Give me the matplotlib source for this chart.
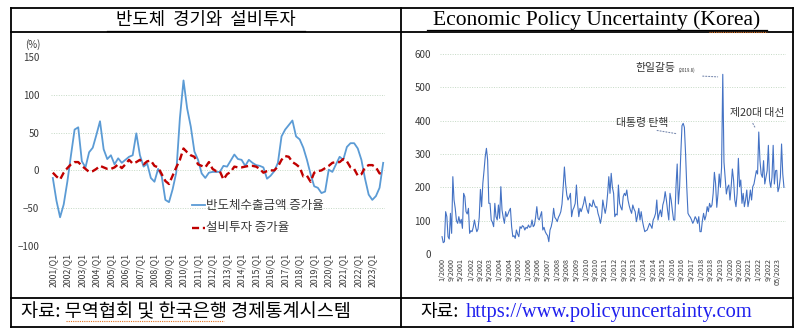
import numpy as np
import matplotlib
matplotlib.use('Agg')
import matplotlib.pyplot as plt

plt.rcParams['font.family'] = ['Noto Sans CJK KR', 'DejaVu Sans']

# left panel: quarterly growth rates (%), 2001Q1 .. 2023Q4
quarter_labels = [f'{y}/Q1' for y in range(2001, 2024)]
chip_export = [-10, -40, -62, -45, -15, 20, 54, 57, 12, 4, 24, 30, 47, 65, 28, 15,
               20, 8, 16, 10, 14, 18, 20, 49, 20, 5, 9, -10, -15, 2, -8, -39,
               -42, -25, -3, 69, 119, 82, 58, 25, 14, -4, -10, -3, -2, -2, -2, 6,
               5, 13, 21, 15, 14, 6, 14, 10, 7, 6, 4, -11, -7, -1, 10, 45,
               54, 60, 66, 45, 41, 30, 14, -5, -21, -23, -30, -28, 1, -2, 8, 18,
               14, 31, 36, 36, 29, 14, -11, -32, -39, -34, -23, 10]
capex = [-3, -8, -12, -3, 3, 8, 11, 11, 6, 2, -2, -1, 2, 6, 4, 2,
         2, 4, 8, 3, 8, 14, 9, 11, 14, 8, 12, 13, 6, 4, -5, -14,
         -18, -7, 4, 14, 29, 24, 20, 18, 8, 6, 4, 11, 2, -1, -1, -12,
         -5, -2, 5, 4, 4, 5, 6, 6, 5, 2, -3, -1, 0, 0, 5, 14,
         19, 18, 11, 8, 4, -8, -7, -15, -3, -1, 0, 3, 6, 10, 11, 11,
         15, 12, 4, 2, -7, -5, 4, 7, 7, 4, -4, -3]

# right panel: monthly EPU index (Korea), 1/2000 ..
epu_index = [
    52, 34, 37, 127, 112, 52, 45, 122, 62, 232, 162, 137,      # 2000
    100, 92, 112, 92, 104, 77, 182, 172, 127, 120, 137, 62,    # 2001
    70, 67, 80, 102, 82, 67, 75, 110, 194, 142, 212, 250,      # 2002
    292, 317, 282, 152, 152, 102, 95, 82, 152, 112, 102, 147,  # 2003
    107, 202, 132, 110, 92, 127, 112, 120, 130, 137, 82, 52,   # 2004
    55, 47, 72, 60, 52, 82, 77, 85, 82, 72, 80, 77,            # 2005
    87, 80, 82, 102, 82, 87, 110, 142, 107, 102, 115, 127,     # 2006
    72, 80, 67, 60, 55, 37, 72, 82, 100, 137, 110, 105,        # 2007
    97, 110, 117, 127, 150, 202, 261, 210, 177, 162, 170, 182, # 2008
    112, 132, 140, 152, 207, 150, 112, 137, 127, 140, 152, 172,  # 2009
    150, 132, 122, 152, 145, 142, 162, 150, 140, 142, 122, 110,  # 2010
    92, 112, 162, 140, 122, 142, 180, 232, 182, 242, 200, 182,   # 2011
    112, 120, 117, 207, 152, 140, 132, 172, 182, 175, 192, 162,  # 2012
    145, 132, 122, 147, 135, 127, 97, 115, 137, 102, 127, 100,   # 2013
    82, 67, 70, 72, 82, 92, 85, 77, 102, 110, 122, 162,          # 2014
    102, 120, 132, 112, 147, 160, 187, 162, 130, 102, 182, 162,  # 2015
    130, 102, 102, 202, 270, 150, 200, 300, 385, 392, 380, 300,  # 2016
    200, 122, 115, 110, 102, 92, 100, 112, 105, 92, 112, 67,     # 2017
    67, 100, 122, 102, 115, 142, 127, 152, 140, 147, 182, 245,   # 2018
    212, 140, 180, 240, 200, 260, 539, 276, 230, 180, 200, 207,  # 2019
    162, 202, 255, 222, 162, 142, 182, 287, 202, 222, 152, 182,  # 2020
    142, 162, 192, 142, 162, 192, 162, 202, 210, 230, 250, 240,  # 2021
    366, 280, 240, 230, 280, 210, 230, 250, 326, 220, 200, 230,  # 2022
    326, 210, 250, 251, 187, 200, 230, 330, 240, 200,            # 2023
]
month_labels = ['1/2000', '9/2000', '5/2001', '1/2002', '9/2002', '5/2003', '1/2004',
                '9/2004', '5/2005', '1/2006', '9/2006', '5/2007', '1/2008', '9/2008',
                '5/2009', '1/2010', '9/2010', '5/2011', '1/2012', '9/2012', '5/2013',
                '1/2014', '9/2014', '5/2015', '1/2016', '9/2016', '5/2017', '1/2018',
                '9/2018', '5/2019', '1/2020', '9/2020', '5/2021', '1/2022', '9/2022',
                '05/2023']

W, H = 805, 335
fig = plt.figure(figsize=(W / 100, H / 100), dpi=100)
fig.patch.set_facecolor('white')


def box(l, t, r, b):
    # pixel box (top-left origin) -> figure rect
    return [l / W, 1 - b / H, (r - l) / W, (b - t) / H]


grid_kw = dict(color='#c5d9c5', lw=0.7, ls=(0, (1, 1.5)), zorder=0)
tick_col = '#3a3a3a'

# ---- left chart
ax1 = fig.add_axes(box(51, 57, 385, 246))
ax1.patch.set_alpha(0)
q = np.arange(len(chip_export))
for v in [-100, -50, 0, 50, 100]:
    ax1.axhline(v, **grid_kw)
ax1.plot(q, chip_export, color='#5B9BD5', lw=1.3, zorder=3)
ax1.plot(np.arange(len(capex)), capex, color='#C00000', lw=1.7, dashes=(3, 1.6), zorder=4)
ax1.set_xlim(-0.5, len(chip_export) - 0.5)
ax1.set_ylim(-100, 150)
ax1.set_yticks([-100, -50, 0, 50, 100, 150])
ax1.set_xticks(np.arange(len(quarter_labels)) * 4)
ax1.set_xticklabels(quarter_labels, rotation=90, fontsize=6.3)
for s in ax1.spines.values():
    s.set_visible(False)
ax1.tick_params(axis='y', length=0, labelsize=7, colors=tick_col, pad=8.5)
ax1.tick_params(axis='x', length=0, colors=tick_col, pad=5)

# ---- right chart
ax2 = fig.add_axes(box(440, 54, 786, 254))
ax2.patch.set_alpha(0)
m = np.arange(len(epu_index))
for v in range(0, 601, 100):
    ax2.axhline(v, **grid_kw)
ax2.plot(m, epu_index, color='#4472C4', lw=0.8, zorder=3)
ax2.set_xlim(-1.7, 286.7)
ax2.set_ylim(0, 600)
ax2.set_yticks(range(0, 601, 100))
ax2.set_xticks(np.arange(len(month_labels)) * 8)
ax2.set_xticklabels(month_labels, rotation=90, fontsize=5.2)
for s in ax2.spines.values():
    s.set_visible(False)
ax2.tick_params(axis='y', length=0, labelsize=7, colors=tick_col, pad=6.5)
ax2.tick_params(axis='x', length=0, colors=tick_col, pad=3)

note_col = '#333333'
arrow_kw = dict(arrowstyle='-', color='#7a8bb0', lw=0.8, ls=':')
ax2.text(161, 558, '한일갈등', fontsize=7.8, va='center', color=note_col)
ax2.text(197, 552, '(2019.8)', fontsize=3.2, va='center', color=note_col)
ax2.annotate('', xy=(232, 531), xytext=(215, 534), arrowprops=arrow_kw)
ax2.text(145, 393, '대통령 탄핵', fontsize=7.8, va='center', color=note_col)
ax2.annotate('', xy=(197, 360), xytext=(177, 372), arrowprops=arrow_kw)
ax2.text(240, 423, '제20대 대선', fontsize=7.8, va='center', color=note_col)
ax2.annotate('', xy=(262, 372), xytext=(258, 399), arrowprops=arrow_kw)

# ---- table frame, titles, legend, sources
fr = fig.add_axes([0, 0, 1, 1], zorder=5)
fr.patch.set_alpha(0)
fr.set_xlim(0, W)
fr.set_ylim(H, 0)
fr.axis('off')

lk = dict(color='black', lw=1.3)
for y in [8, 32, 298, 327]:
    fr.plot([11, 793], [y, y], **lk)
for x in [11, 401, 793]:
    fr.plot([x, x], [8, 327], **lk)

fr.text(206, 19.5, '반도체  경기와  설비투자', ha='center', va='center', fontsize=12.8)
fr.plot([107, 305], [30.5, 30.5], color='black', lw=0.9)
fr.text(597, 19.8, 'Economic Policy Uncertainty (Korea)', ha='center', va='center',
        family='Liberation Serif', fontsize=15.5)
fr.plot([427, 767], [30.3, 30.3], color='black', lw=0.9)
fr.plot([709, 767], [31.6, 31.6], color='#e07020', lw=0.8, ls=(0, (1, 1)))

fr.text(25, 45, '(%)', fontsize=7, va='center', color=tick_col)

fr.plot([192, 205], [205, 205], color='#5B9BD5', lw=1.3)
fr.text(206, 205, '반도체수출금액 증가율', fontsize=9, va='center', color=tick_col)
fr.plot([192, 205], [228, 228], color='#C00000', lw=1.7, dashes=(3, 1.6))
fr.text(206, 228, '설비투자 증가율', fontsize=9, va='center', color=tick_col)

fr.text(21, 312, '자료: 무역협회 및 한국은행 경제통계시스템', va='center', fontsize=13.4)
fr.plot([66, 224], [321, 321], color='#e07020', lw=0.8, ls=(0, (1, 1)))
fr.text(420, 312, '자료:', va='center', fontsize=13)
fr.text(466, 312, 'https://www.policyuncertainty.com', va='center',
        family='Liberation Serif', fontsize=14.8, color='#2020ee')

fig.savefig('out.png', dpi=100)
